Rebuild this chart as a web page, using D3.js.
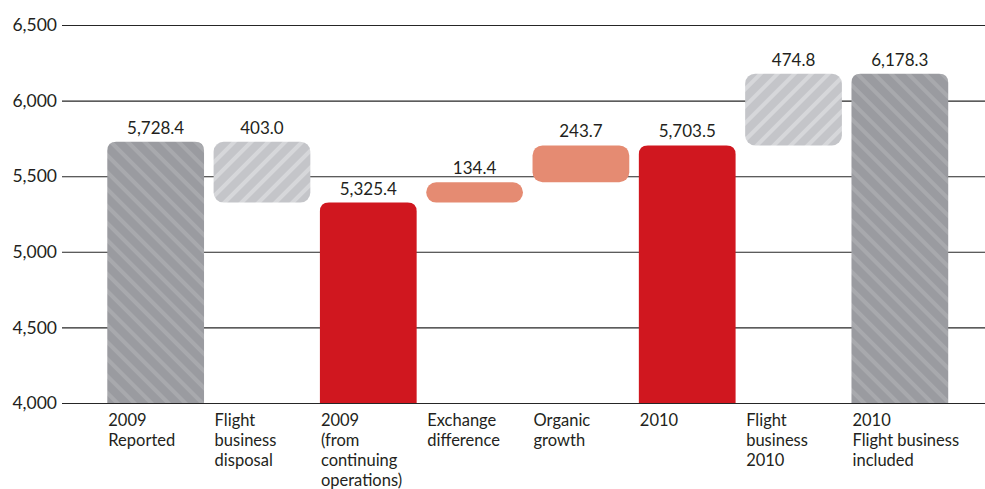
<!DOCTYPE html>
<html>
<head>
<meta charset="utf-8">
<script src="https://cdn.jsdelivr.net/npm/d3@7"></script>
<style>
  body { margin: 0; background: #fff; }
  svg text { font-family: Lato, 'Noto Sans', sans-serif; fill: #231f20; }
</style>
</head>
<body>
<svg id="chart" width="985" height="489"></svg>
<script>
const categories = [
  ['2009', 'Reported'],
  ['Flight', 'business', 'disposal'],
  ['2009', '(from', 'continuing', 'operations)'],
  ['Exchange', 'difference'],
  ['Organic', 'growth'],
  ['2010'],
  ['Flight', 'business', '2010'],
  ['2010', 'Flight business', 'included']
];
const values = [5728.4, -403.0, 5325.4, 134.4, 243.7, 5703.5, 474.8, 6178.3];
const valueLabels = ['5,728.4', '403.0', '5,325.4', '134.4', '243.7', '5,703.5', '474.8', '6,178.3'];
const kinds = ['totalGrey', 'flight', 'total', 'delta', 'delta', 'total', 'flight', 'totalGrey'];
const yTicks = [4000, 4500, 5000, 5500, 6000, 6500];

const width = 985, height = 489;
const margin = { top: 25, right: 0, bottom: 86, left: 62 };

const svg = d3.select('#chart');

// waterfall spans
let running = 0;
const bars = values.map((v, i) => {
  let lo, hi;
  if (kinds[i].startsWith('total')) {
    lo = 4000; hi = v; running = v;
  } else {
    const next = running + v;
    lo = Math.min(running, next); hi = Math.max(running, next);
    running = next;
  }
  return { i, lo, hi, kind: kinds[i], label: valueLabels[i], cat: categories[i] };
});

const y = d3.scaleLinear()
  .domain([4000, 6500])
  .range([height - margin.bottom, margin.top]);

const x = d3.scaleBand()
  .domain(d3.range(values.length))
  .range([102.5, 953])
  .paddingInner(0.09)
  .paddingOuter(0.045);

// hatch patterns
const defs = svg.append('defs');
function hatch(id, base, stripe, angle) {
  const p = defs.append('pattern')
    .attr('id', id)
    .attr('patternUnits', 'userSpaceOnUse')
    .attr('width', 12).attr('height', 12)
    .attr('patternTransform', `rotate(${angle})`);
  p.append('rect').attr('width', 12).attr('height', 12).attr('fill', base);
  p.append('rect').attr('width', 4).attr('height', 12).attr('fill', stripe);
}
hatch('hatchDark', '#9a9ba0', '#a8a9ad', -45);
hatch('hatchLight', '#c4c5c9', '#d6d7da', 45);

const fills = {
  totalGrey: 'url(#hatchDark)',
  flight: 'url(#hatchLight)',
  total: '#d0171f',
  delta: '#e58b72'
};

// grid
svg.append('g')
  .attr('transform', `translate(${margin.left},0)`)
  .call(d3.axisLeft(y).tickValues(yTicks).tickSize(-(width - margin.left)).tickFormat(d3.format(',')))
  .call(g => g.select('.domain').remove())
  .call(g => g.selectAll('.tick line').attr('stroke', '#262626').attr('stroke-width', 1.1))
  .call(g => g.selectAll('.tick text')
    .attr('x', -5)
    .attr('font-size', 17.5)
    .style('fill', '#231f20'));

// rounded-top path
function topRounded(x0, y0, w, h, r) {
  return `M${x0},${y0 + h}V${y0 + r}Q${x0},${y0} ${x0 + r},${y0}H${x0 + w - r}Q${x0 + w},${y0} ${x0 + w},${y0 + r}V${y0 + h}Z`;
}

const g = svg.append('g');

bars.forEach(d => {
  const x0 = x(d.i), w = x.bandwidth();
  const y0 = y(d.hi), h = y(d.lo) - y(d.hi);
  if (d.kind.startsWith('total')) {
    g.append('path')
      .attr('d', topRounded(x0, y0, w, h, 9))
      .attr('fill', fills[d.kind]);
  } else {
    g.append('rect')
      .attr('x', x0).attr('y', y0)
      .attr('width', w).attr('height', h)
      .attr('rx', Math.min(10, h / 2)).attr('ry', Math.min(10, h / 2))
      .attr('fill', fills[d.kind]);
  }
  g.append('text')
    .attr('x', x0 + w / 2)
    .attr('y', y0 - 8)
    .attr('text-anchor', 'middle')
    .attr('font-size', 17)
    .text(d.label);

  const t = g.append('text')
    .attr('x', x0 + 1)
    .attr('y', height - margin.bottom + 23)
    .attr('font-size', 16.5);
  d.cat.forEach((line, k) => {
    t.append('tspan')
      .attr('x', x0 + 1)
      .attr('dy', k === 0 ? 0 : 20)
      .text(line);
  });
});
</script>
</body>
</html>
